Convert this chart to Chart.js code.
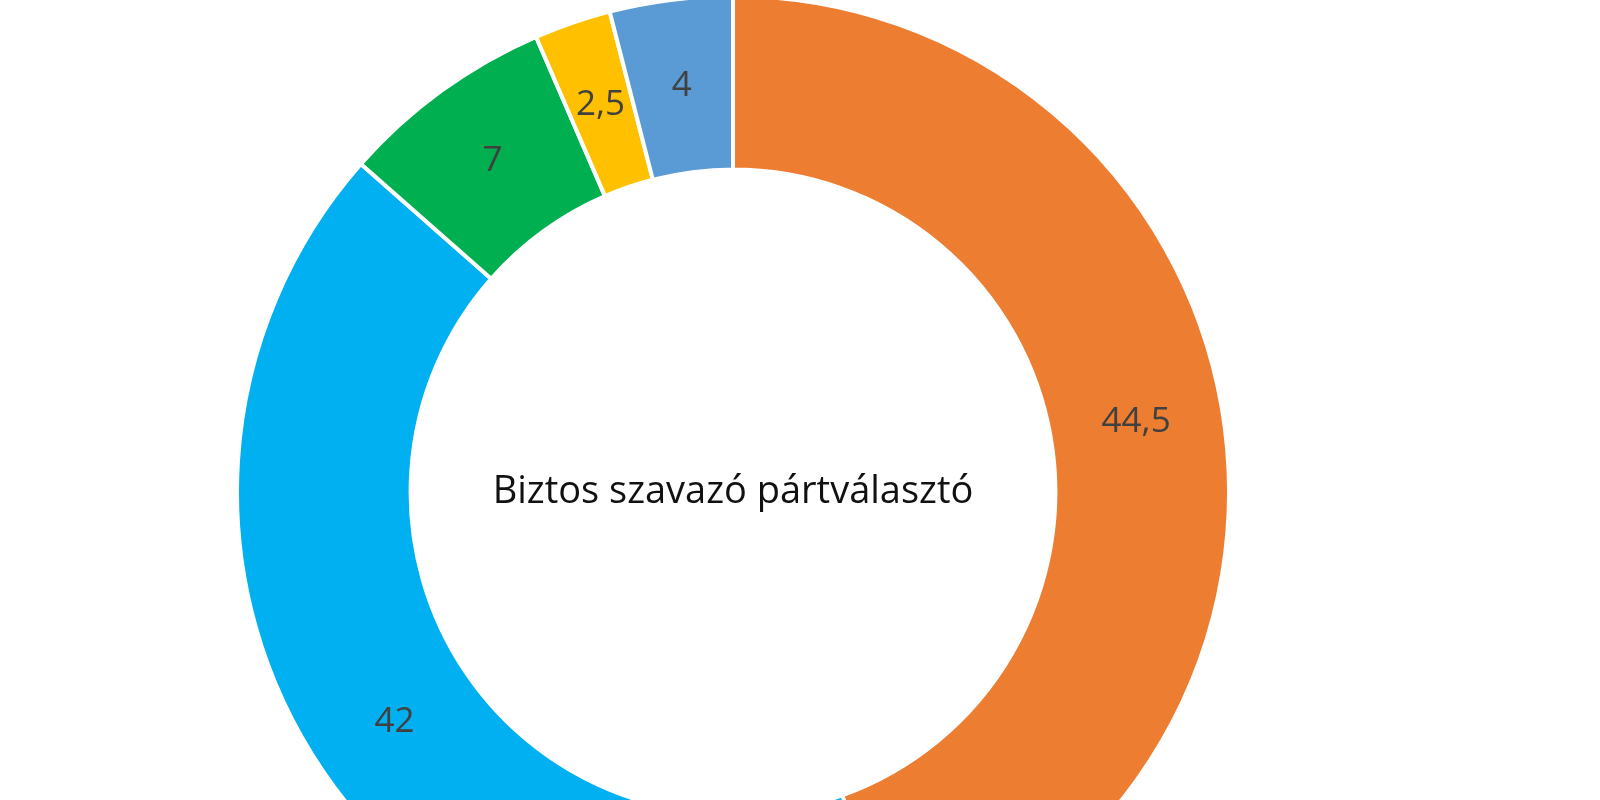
<!DOCTYPE html>
<html>
<head>
<meta charset="utf-8">
<script src="https://cdn.jsdelivr.net/npm/chart.js@4"></script>
<style>
  html, body { margin: 0; padding: 0; width: 1600px; height: 800px; overflow: hidden; background: #fff; }
  #wrap { position: absolute; left: 235px; top: -6px; width: 996px; height: 996px; }
</style>
</head>
<body>
<div id="wrap"><canvas id="chart"></canvas></div>
<script>
// Data
let labels = ["Orange", "Light blue", "Green", "Yellow", "Steel blue"];
let values = [44.5, 42, 7, 2.5, 4];
let valueLabels = ["44,5", "42", "7", "2,5", "4"];
let colors = ["#ED7D31", "#00B0F0", "#00B050", "#FFC000", "#5B9BD5"];
let centerText = "Biztos szavazó pártválasztó";

// Draw value labels and the centre caption
const labelPlugin = {
  id: "sliceLabels",
  afterDatasetsDraw(chart) {
    let ctx = chart.ctx;
    let meta = chart.getDatasetMeta(0);
    ctx.save();
    ctx.font = "35px 'Open Sans', sans-serif";
    ctx.fillStyle = "#404040";
    ctx.textAlign = "center";
    ctx.textBaseline = "middle";
    meta.data.forEach((arc, i) => {
      let p = arc.tooltipPosition();
      ctx.fillText(valueLabels[i], p.x, p.y);
    });
    let c = meta.data[0];
    ctx.fillStyle = "#111";
    ctx.font = "38px 'Open Sans', sans-serif";
    ctx.fillText(centerText, c.x, c.y);
    ctx.restore();
  }
};

new Chart(document.getElementById("chart"), {
  type: "doughnut",
  data: {
    labels: labels,
    datasets: [{
      data: values,
      backgroundColor: colors,
      borderColor: "#fff",
      borderWidth: 4
    }]
  },
  options: {
    responsive: true,
    maintainAspectRatio: false,
    animation: false,
    cutout: "65%",
    plugins: { legend: { display: false }, tooltip: { enabled: false } }
  },
  plugins: [labelPlugin]
});
</script>
</body>
</html>
